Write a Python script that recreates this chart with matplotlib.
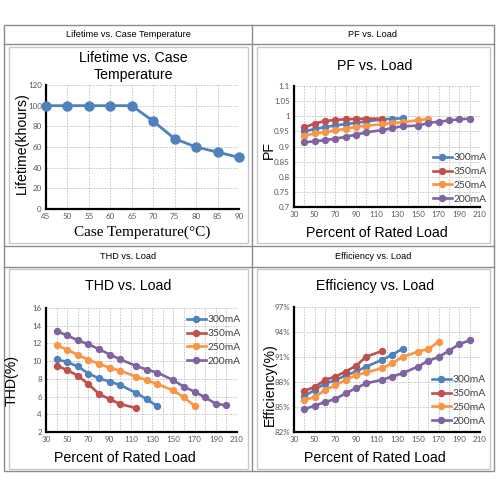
"""2x2 table of LED driver characteristic curves (lifetime, PF, THD, efficiency)."""

import matplotlib
matplotlib.use("Agg")
import matplotlib.pyplot as plt
from matplotlib.lines import Line2D
from matplotlib.patches import Rectangle
from matplotlib.ticker import MultipleLocator, FuncFormatter

# ---- data -----------------------------------------------------------------
temp_c = [45, 50, 55, 60, 65, 70, 75, 80, 85, 90]
lifetime_khours = [100, 100, 100, 100, 100, 85, 68, 60, 55, 50]

series_names = ["300mA", "350mA", "250mA", "200mA"]

load_350 = [40, 50, 60, 70, 80, 90, 100, 115]
load_300 = [40, 50, 60, 70, 80, 90, 100, 115, 125, 135]
load_250_pf = [40, 50, 60, 70, 80, 90, 100, 115, 125, 135, 150, 160]
load_250 = [40, 50, 60, 70, 80, 90, 100, 115, 125, 135, 150, 160, 170]
load_200 = [40, 50, 60, 70, 80, 90, 100, 115, 125, 135, 150, 160, 170, 180, 190, 200]

load_ticks = [30, 50, 70, 90, 110, 130, 150, 170, 190, 210]
eff_ticks = [82, 85, 88, 91, 94, 97]

pf_300 = [0.950, 0.958, 0.964, 0.970, 0.974, 0.978, 0.983, 0.989, 0.992, 0.993]
pf_350 = [0.963, 0.976, 0.984, 0.988, 0.990, 0.991, 0.992, 0.992]
pf_250 = [0.936, 0.943, 0.947, 0.953, 0.959, 0.965, 0.969, 0.973, 0.978, 0.980, 0.987, 0.991]
pf_200 = [0.914, 0.917, 0.921, 0.926, 0.932, 0.939, 0.947, 0.954, 0.961, 0.967,
          0.969, 0.978, 0.982, 0.986, 0.990, 0.992]

thd_300 = [10.2, 9.9, 9.4, 8.6, 8.05, 7.7, 7.3, 6.4, 5.7, 4.9]
thd_350 = [9.5, 9.0, 8.35, 7.4, 6.3, 5.7, 5.15, 4.7]
thd_250 = [11.8, 11.3, 10.7, 10.15, 9.7, 9.25, 8.9, 8.25, 7.85, 7.4, 6.7, 5.9, 4.95]
thd_200 = [13.4, 12.9, 12.35, 11.9, 11.35, 10.75, 10.2, 9.45, 9.05, 8.7,
           7.85, 7.1, 6.55, 5.9, 5.2, 5.0]

eff_300 = [86.3, 87.05, 87.8, 88.2, 88.8, 89.25, 89.85, 90.65, 91.25, 92.0]
eff_350 = [86.95, 87.4, 88.25, 88.65, 89.25, 89.95, 91.05, 91.7]
eff_250 = [85.9, 86.15, 87.05, 87.6, 88.25, 88.8, 89.15, 89.65, 90.25, 91.0,
           91.65, 91.95, 92.85]
eff_200 = [84.75, 85.15, 85.6, 85.95, 86.65, 87.25, 87.85, 88.25, 88.65, 89.05,
           89.85, 90.55, 91.0, 91.75, 92.55, 93.0]

# ---- style ----------------------------------------------------------------
BLUE = "#4F81BD"
RED = "#C0504D"
ORANGE = "#F79646"
PURPLE = "#8064A2"
COLORS = [BLUE, RED, ORANGE, PURPLE]
TICK = "#595959"
GRID = "#BFBFBF"
TABLE = "#8C8C8C"
FRAME = "#C8C8C8"
SANS = "Liberation Sans"
SMALL = "Lato"

W = H = 500.0


def fx(x):
    return x / W


def fy(y):
    return 1 - y / H


def fig_line(fig, x0, y0, x1, y1, color, lw=1.0):
    fig.add_artist(Line2D([fx(x0), fx(x1)], [fy(y0), fy(y1)], color=color,
                          linewidth=lw, transform=fig.transFigure))


def fig_box(fig, x0, y0, x1, y1, color, lw=1.0):
    fig.add_artist(Rectangle((fx(x0), fy(y1)), fx(x1) - fx(x0), fy(y0) - fy(y1),
                             fill=False, edgecolor=color, linewidth=lw,
                             transform=fig.transFigure))


def make_axes(fig, left, top, right, bottom):
    ax = fig.add_axes([fx(left), fy(bottom), fx(right) - fx(left), fy(top) - fy(bottom)])
    for side in ("top", "right"):
        ax.spines[side].set_visible(False)
    for side in ("left", "bottom"):
        ax.spines[side].set_linewidth(1.6)
        ax.spines[side].set_color("black")
    ax.tick_params(which="both", length=0, pad=3, labelsize=5.8, labelcolor=TICK)
    ax.grid(True, which="both", color=GRID, linewidth=0.6, linestyle=(0, (2, 1.5)))
    ax.set_axisbelow(True)
    return ax


def style_ticks(ax):
    for lab in ax.get_xticklabels() + ax.get_yticklabels():
        lab.set_family(SMALL)


def load_axes(ax):
    ax.set_xlim(load_ticks[0], load_ticks[-1])
    ax.set_xticks(load_ticks)
    ax.xaxis.set_minor_locator(MultipleLocator(10))


def draw_series(ax, xs_list, ys_list):
    for xs, ys, color, name in zip(xs_list, ys_list, COLORS, series_names):
        ax.plot(xs, ys, color=color, linewidth=1.9, marker="o", markersize=4.3,
                label=name, clip_on=False)


def legend(ax, fig, x, y):
    return ax.legend(loc="upper left", bbox_to_anchor=(fx(x), fy(y)),
                     bbox_transform=fig.transFigure, frameon=False, borderpad=0,
                     handlelength=1.8, handletextpad=0.15, labelspacing=0.45,
                     prop={"family": SMALL, "size": 7.4}, labelcolor="#404040")


fig = plt.figure(figsize=(5, 5), dpi=100, facecolor="white")

# ---- table frame ----------------------------------------------------------
fig_box(fig, 4, 25, 494, 471, TABLE, 1.0)
fig_line(fig, 252, 25, 252, 471, TABLE, 1.0)
for yy in (44, 246, 267):
    fig_line(fig, 4, yy, 494, yy, TABLE, 1.0)
for (x0, y0, x1, y1) in [(9, 47, 248, 243), (257, 47, 490, 243),
                         (9, 269, 248, 469), (257, 269, 490, 469)]:
    fig_box(fig, x0, y0, x1, y1, FRAME, 1.0)

header_kw = dict(ha="center", va="center", fontsize=6.6, family=SANS, color="black")
fig.text(fx(128), fy(34.5), "Lifetime vs. Case Temperature", **header_kw)
fig.text(fx(373), fy(34.5), "PF vs. Load", **header_kw)
fig.text(fx(128), fy(256.5), "THD vs. Load", **header_kw)
fig.text(fx(373), fy(256.5), "Efficiency vs. Load", **header_kw)

title_kw = dict(ha="center", va="center", fontsize=10.2, family=SANS, color="black")
label_kw = dict(ha="center", va="center", fontsize=10.2, family=SANS, color="black")

# ---- lifetime ------------------------------------------------------------
ax = make_axes(fig, 46, 85, 239, 209)
ax.plot(temp_c, lifetime_khours, color=BLUE, linewidth=2.0, marker="o", markersize=6.5,
        clip_on=False, zorder=3)
ax.set_xlim(45, 90)
ax.set_ylim(0, 120)
ax.xaxis.set_major_locator(MultipleLocator(5))
ax.yaxis.set_major_locator(MultipleLocator(20))
style_ticks(ax)
fig.text(fx(133), fy(58), "Lifetime vs. Case", **title_kw)
fig.text(fx(133), fy(74.5), "Temperature", **title_kw)
fig.text(fx(142), fy(232), "Case Temperature(°C)", ha="center", va="center",
         fontsize=11, family="Liberation Serif")
fig.text(fx(22), fy(143), "Lifetime(khours)", rotation=90, **label_kw)

# ---- PF ------------------------------------------------------------------
ax = make_axes(fig, 294, 86, 480, 207)
load_axes(ax)
ax.set_ylim(0.7, 1.1)
ax.yaxis.set_major_locator(MultipleLocator(0.05))
ax.yaxis.set_major_formatter(FuncFormatter(lambda v, p: f"{v:g}"))
draw_series(ax, [load_300, load_350, load_250_pf, load_200],
            [pf_300, pf_350, pf_250, pf_200])
style_ticks(ax)
legend(ax, fig, 428, 148)
fig.text(fx(375), fy(66.5), "PF vs. Load", **title_kw)
fig.text(fx(377), fy(233), "Percent of Rated Load", **label_kw)
fig.text(fx(269), fy(150), "PF", rotation=90, **label_kw)

# ---- THD -----------------------------------------------------------------
ax = make_axes(fig, 46, 308, 237, 432)
load_axes(ax)
ax.set_ylim(2, 16)
ax.yaxis.set_major_locator(MultipleLocator(2))
draw_series(ax, [load_300, load_350, load_250, load_200],
            [thd_300, thd_350, thd_250, thd_200])
style_ticks(ax)
legend(ax, fig, 182, 310)
fig.text(fx(128), fy(286.5), "THD vs. Load", **title_kw)
fig.text(fx(125), fy(458), "Percent of Rated Load", **label_kw)
fig.text(fx(12), fy(381), "THD(%)", rotation=90, **label_kw)

# ---- efficiency ----------------------------------------------------------
ax = make_axes(fig, 294, 307, 480, 432)
load_axes(ax)
ax.set_ylim(eff_ticks[0], eff_ticks[-1])
ax.set_yticks(eff_ticks)
ax.yaxis.set_major_formatter(FuncFormatter(lambda v, p: f"{v:.0f}%"))
draw_series(ax, [load_300, load_350, load_250, load_200],
            [eff_300, eff_350, eff_250, eff_200])
style_ticks(ax)
legend(ax, fig, 427, 370)
fig.text(fx(375), fy(286), "Efficiency vs. Load", **title_kw)
fig.text(fx(375), fy(458), "Percent of Rated Load", **label_kw)
fig.text(fx(270), fy(385), "Efficiency(%)", rotation=90, **label_kw)

fig.savefig("out.png", dpi=100, facecolor="white")
